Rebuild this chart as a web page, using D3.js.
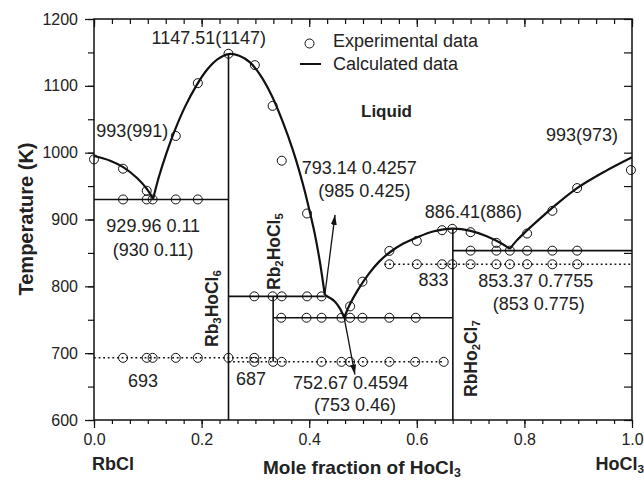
<!DOCTYPE html>
<html>
<head>
<meta charset="utf-8">
<script src="https://cdn.jsdelivr.net/npm/d3@7"></script>
<style>
  body { margin: 0; background: #fff; }
  svg { display: block; font-family: "Liberation Sans", Arial, sans-serif; }
</style>
</head>
<body>
<div id="vis"></div>
<script>
// ---- data ----
// calculated liquidus branches [mole fraction, T(K)]
var liqRbCl   = [[0,995],[0.03,988],[0.055,978],[0.08,962],[0.098,946],[0.11,931]];
var liqRb3    = [[0.11,931],[0.12,962],[0.135,1000],[0.15,1033],[0.17,1070],[0.19,1100],[0.21,1124],
                 [0.23,1140],[0.25,1147.51],[0.27,1145],[0.29,1135],[0.31,1115],[0.33,1086],[0.35,1048],
                 [0.37,1003],[0.39,948],[0.40,915],[0.41,880],[0.42,836],[0.429,787]];
var liqRb2    = [[0.429,787],[0.44,782],[0.448,777],[0.457,767],[0.463,757],[0.465,753]];
var liqRbHo2  = [[0.465,753],[0.475,772],[0.49,794],[0.51,818],[0.53,837],[0.55,851],[0.575,864],[0.6,873],
                 [0.63,882],[0.667,886.41],[0.70,883],[0.73,875],[0.76,863],[0.773,856]];
var liqHoCl3  = [[0.773,856],[0.785,868],[0.80,880],[0.83,902],[0.86,923],[0.90,948],[0.95,972],[1.0,993]];

// invariant lines: solid and dotted [T, x from, x to]
var solidIso  = [[930,0,0.25],[785,0.25,0.429],[753,0.333,0.667],[853.37,0.667,1.0]];
var dottedIso = [[693,0,0.333],[687,0.25,0.65],[833,0.54,1.0]];
// compound verticals [x, T top, T bottom]
var compounds = [[0.25,1147.51,600],[0.333,785,687],[0.667,886.41,600]];

// experimental points
var expLiqX = [0.0,0.054,0.098,0.152,0.193,0.25,0.299,0.332,0.349,0.396,0.476,0.499,0.549,0.600,0.647,0.666,0.700,0.748,0.805,0.852,0.898,0.998];
var expLiqT = [990,976,943,1025,1104,1148,1131,1070,988,909,770,807,853,868,884,886,881,865,879,913,947,974];
var exp930  = [0.054,0.098,0.109,0.152,0.193];
var exp785  = [0.298,0.332,0.349,0.396,0.423];
var exp753  = [0.348,0.395,0.423,0.46,0.476,0.499,0.549,0.598];
var exp853  = [0.70,0.748,0.773,0.805,0.852,0.898];
var exp833  = [0.549,0.600,0.647,0.666,0.700,0.748,0.773,0.805,0.852,0.898];
var exp693  = [0.054,0.098,0.109,0.152,0.193,0.25,0.298];
var exp687  = [0.298,0.333,0.349,0.423,0.46,0.476,0.50,0.549,0.597,0.65];

var xTicks = [0,0.2,0.4,0.6,0.8,1.0];
var yTicks = [600,700,800,900,1000,1100,1200];

// annotations [text, x, T]
var labels = [
  ["1147.51(1147)",0.107,1162],["993(991)",0.004,1023],["929.96 0.11",0.023,881],["(930 0.11)",0.035,846],
  ["793.14 0.4257",0.386,968],["(985 0.425)",0.417,934],["693",0.063,650],["687",0.264,653],
  ["752.67 0.4594",0.37,647],["(753 0.46)",0.409,613],["833",0.603,800],["886.41(886)",0.615,902],
  ["853.37 0.7755",0.714,799],["(853 0.775)",0.741,765],["993(973)",0.84,1017]
];
var arrows = [[[0.429,787],[0.448,907]],[[0.465,753],[0.485,668]]];

// ---- drawing ----
var w = 644, h = 480;
var x = d3.scaleLinear().domain([0,1]).range([94,632]);
var y = d3.scaleLinear().domain([600,1200]).range([420,19]);

var svg = d3.select("#vis").append("svg").attr("width",w).attr("height",h);
var ink = "#111";

// axes
function styleAxis(g){
  g.select(".domain").remove();
  g.selectAll("line").attr("stroke",ink).attr("stroke-width",1.2);
  g.selectAll("text").attr("fill","#222").style("font-size","16px").style("font-family","Liberation Sans, Arial, sans-serif");
}
var minorX = d3.range(0,31).map(function(i){return i/30;});
svg.append("g").attr("transform","translate(0,420)")
  .call(d3.axisBottom(x).tickValues(minorX).tickSize(4).tickFormat(""))
  .call(styleAxis);
svg.append("g").attr("transform","translate(0,420)")
  .call(d3.axisBottom(x).tickValues(xTicks).tickSize(8).tickPadding(6).tickFormat(d3.format(".1f")))
  .call(styleAxis);
svg.append("g").attr("transform","translate(0,19)")
  .call(d3.axisTop(x).tickValues(minorX).tickSize(-5).tickFormat(""))
  .call(styleAxis);
svg.append("g").attr("transform","translate(0,19)")
  .call(d3.axisTop(x).tickValues(xTicks).tickSize(-8).tickFormat(""))
  .call(styleAxis);
svg.append("g").attr("transform","translate(94,0)")
  .call(d3.axisLeft(y).tickValues(d3.range(600,1201,50)).tickSize(6).tickFormat(""))
  .call(styleAxis);
svg.append("g").attr("transform","translate(94,0)")
  .call(d3.axisLeft(y).tickValues(yTicks).tickSize(9).tickPadding(7).tickFormat(d3.format("d")))
  .call(styleAxis);
svg.append("g").attr("transform","translate(632,0)")
  .call(d3.axisRight(y).tickValues(d3.range(600,1201,50)).tickSize(-8).tickFormat(""))
  .call(styleAxis);

svg.append("rect").attr("x",x(0)).attr("y",y(1200)).attr("width",x(1)-x(0)).attr("height",y(600)-y(1200))
  .attr("fill","none").attr("stroke",ink).attr("stroke-width",1.5);

// invariant lines
svg.selectAll(".iso").data(solidIso).enter().append("line")
  .attr("x1",function(d){return x(d[1]);}).attr("x2",function(d){return x(d[2]);})
  .attr("y1",function(d){return y(d[0]);}).attr("y2",function(d){return y(d[0]);})
  .attr("stroke",ink).attr("stroke-width",1.6);
svg.selectAll(".dot").data(dottedIso).enter().append("line")
  .attr("x1",function(d){return x(d[1]);}).attr("x2",function(d){return x(d[2]);})
  .attr("y1",function(d){return y(d[0]);}).attr("y2",function(d){return y(d[0]);})
  .attr("stroke",ink).attr("stroke-width",1.5).attr("stroke-dasharray","1.8,2.8");
svg.selectAll(".cmp").data(compounds).enter().append("line")
  .attr("x1",function(d){return x(d[0]);}).attr("x2",function(d){return x(d[0]);})
  .attr("y1",function(d){return y(d[1]);}).attr("y2",function(d){return y(d[2]);})
  .attr("stroke",ink).attr("stroke-width",1.6);

// liquidus curves
var line = d3.line().x(function(d){return x(d[0]);}).y(function(d){return y(d[1]);})
  .curve(d3.curveCatmullRom.alpha(0.5));
[liqRbCl,liqRb3,liqRb2,liqRbHo2,liqHoCl3].forEach(function(c){
  svg.append("path").datum(c).attr("d",line).attr("fill","none").attr("stroke",ink).attr("stroke-width",2.2);
});

// arrows
svg.append("defs").append("marker").attr("id","ah").attr("viewBox","0 0 10 6").attr("refX",10).attr("refY",3)
  .attr("markerWidth",10).attr("markerHeight",6).attr("markerUnits","userSpaceOnUse").attr("orient","auto")
  .append("path").attr("d","M0,0L10,3L0,6Z").attr("fill",ink);
arrows.forEach(function(a){
  svg.append("line").attr("x1",x(a[0][0])).attr("y1",y(a[0][1])).attr("x2",x(a[1][0])).attr("y2",y(a[1][1]))
    .attr("stroke",ink).attr("stroke-width",1.3).attr("marker-end","url(#ah)");
});

// experimental circles
var pts = expLiqX.map(function(v,i){return [v,expLiqT[i]];});
[[exp930,930],[exp785,785],[exp753,753],[exp853,853.37],[exp833,833],[exp693,693],[exp687,687]].forEach(function(s){
  s[0].forEach(function(v){pts.push([v,s[1]]);});
});
svg.selectAll(".exp").data(pts).enter().append("circle")
  .attr("cx",function(d){return x(d[0]);}).attr("cy",function(d){return y(d[1]);}).attr("r",4.5)
  .attr("fill","none").attr("stroke",ink).attr("stroke-width",1);

// labels
svg.selectAll(".lab").data(labels).enter().append("text")
  .attr("x",function(d){return x(d[1]);}).attr("y",function(d){return y(d[2]);})
  .attr("fill","#222").style("font-size","18px").text(function(d){return d[0];});

svg.append("text").attr("x",361).attr("y",117).attr("fill","#222").style("font-size","17px")
  .style("font-weight","bold").text("Liquid");

// legend
svg.append("circle").attr("cx",309.5).attr("cy",43.5).attr("r",4.5).attr("fill","none").attr("stroke",ink);
svg.append("line").attr("x1",300).attr("x2",321).attr("y1",64).attr("y2",64).attr("stroke",ink).attr("stroke-width",2);
svg.append("text").attr("x",333).attr("y",47).attr("fill","#222").style("font-size","18px").text("Experimental data");
svg.append("text").attr("x",333).attr("y",70).attr("fill","#222").style("font-size","18px").text("Calculated data");

// compound names, rotated
function chem(g, parts, size){
  parts.forEach(function(p){
    var t = g.append("tspan").text(p[0]);
    if (p[1]) t.style("font-size",(size*0.65)+"px").attr("dy","0.28em");
    else t.attr("dy", g.selectAll("tspan").size() > 1 ? "-0.18em" : null);
  });
}
var cmpNames = [
  [[["Rb"],["3",1],["HoCl"],["6",1]],218,347],
  [[["Rb"],["2",1],["HoCl"],["5",1]],280,290],
  [[["RbHo"],["2",1],["Cl"],["7",1]],477,397]
];
cmpNames.forEach(function(c){
  var t = svg.append("text").attr("transform","translate("+c[1]+","+c[2]+")rotate(-90)")
    .attr("fill","#222").style("font-size","17.5px").style("font-weight","bold");
  chem(t,c[0],17.5);
});

// axis titles
svg.append("text").attr("transform","translate(33,219)rotate(-90)").attr("text-anchor","middle")
  .attr("fill","#222").style("font-size","20px").style("font-weight","bold").text("Temperature (K)");
var xt = svg.append("text").attr("x",362).attr("y",474).attr("text-anchor","middle")
  .attr("fill","#222").style("font-size","19px").style("font-weight","bold");
chem(xt,[["Mole fraction of HoCl"],["3",1]],19);
svg.append("text").attr("x",92).attr("y",470).attr("fill","#222").style("font-size","18px")
  .style("font-weight","bold").text("RbCl");
var ho = svg.append("text").attr("x",644).attr("y",470).attr("text-anchor","end")
  .attr("fill","#222").style("font-size","18px").style("font-weight","bold");
chem(ho,[["HoCl"],["3",1]],18);
</script>
</body>
</html>
